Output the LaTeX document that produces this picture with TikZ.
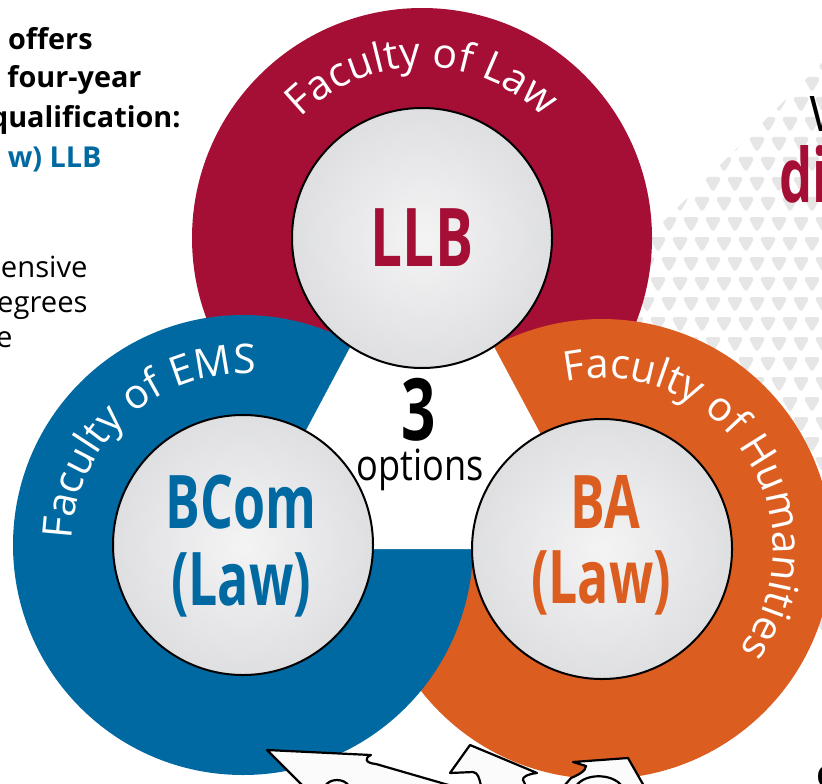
\documentclass[tikz,border=0pt]{standalone}
\usepackage{fontspec}
\setmainfont{Open Sans}
\newfontfamily\condbold[FakeStretch=0.7]{Open Sans Bold}
\newfontfamily\condreg[FakeStretch=0.84]{Open Sans}
\usetikzlibrary{calc, decorations.text}
\definecolor{lawred}{HTML}{A50E35}
\definecolor{emsblue}{HTML}{0069A2}
\definecolor{humorange}{HTML}{DC5D20}
\definecolor{ballin}{HTML}{F4F4F5}
\definecolor{ballout}{HTML}{C9CACD}
\definecolor{patgray}{HTML}{E6E6E6}
\pgfdeclareradialshading{ballshade}{\pgfpoint{0bp}{0bp}}{color(0bp)=(ballin); color(50bp)=(ballout)}
\tikzset{>=latex}

\begin{document}
\begin{tikzpicture}[x=0.5pt, y=0.5pt,
  gball/.style={draw=black, line width=1pt, shading=ballshade},
  facultytext/.style={decorate, decoration={text along path, text align=center,
    text color=white, text={|\fontsize{20.5}{24}\selectfont|#1}}},
  degree/.style={font=\condbold\fontsize{37}{40}\selectfont, text=#1, inner sep=0pt, anchor=base},
  sidebold/.style={inner sep=0pt, anchor=base east, font=\bfseries\fontsize{14.4}{18}\selectfont},
  sidereg/.style={inner sep=0pt, anchor=base east, font=\fontsize{14.6}{18}\selectfont},
  arrowbit/.style={fill=white!97!gray, draw=black, line width=1.1pt, line join=round}]
\useasboundingbox (0,0) rectangle (822,783);
\clip (0,0) rectangle (822,783);

\coordinate (lawc) at (422,545);
\coordinate (emsc) at (243,238);
\coordinate (humc) at (602,234);

% patterned background on the right
\begin{scope}
\clip (533,431) -- (822,720) -- (822,143) -- cycle;
\foreach \r in {0,...,30}
  \foreach \c in {0,...,14}
    \fill[patgray, rounded corners=2pt] ({526+\c*22+mod(\r,2)*11},{140+\r*20}) ++(-9,6) -- ++(18,0) -- ++(-9,-16) -- cycle;
\end{scope}

% rings
\fill[lawred] (lawc) circle (230);
\fill[humorange] (humc) circle (230);
\fill[emsblue] (emsc) circle (230);
\fill[white] (422,571) -- (243,234) -- (602,234) -- cycle;

\path[facultytext={Faculty of Law}] (lawc) ++(170:171) arc (170:10:171);
\path[facultytext={Faculty of EMS}] (emsc) ++(222:171) arc (222:42:171);
\path[facultytext={Faculty of Humanities}] (humc) ++(148:171) arc (148:-82:171);

\draw[gball] (lawc) circle (130);
\draw[gball] (emsc) circle (130);
\draw[gball] (humc) circle (130);

\node[degree=lawred, font=\condbold\fontsize{40.5}{44}\selectfont] (llb) at (422,517) {LLB};
\node[degree=emsblue] (bcom) at (241,255) {BCom};
\node[degree=emsblue] (bcomlaw) at (241,178) {(Law)};
\node[degree=humorange] (ba) at (605,255) {BA};
\node[degree=humorange] (balaw) at (601,180) {(Law)};

\node[degree=black, font=\condbold\fontsize{43}{44}\selectfont] (three) at (419,343) {3};
\node[inner sep=0pt, anchor=base, font=\condreg\fontsize{21.5}{24}\selectfont] (opts) at (420,303) {options};

% cut-off text at the page edges
\node[sidebold] (l1) at (93,733) {n offers};
\node[sidebold] (l2) at (142,695) {n four-year};
\node[sidebold] (l3) at (181,655) {qualification:};
\node[sidebold, text=emsblue] (l4) at (102,615) {w) LLB};
\node[sidereg] (l5) at (88,506) {ensive};
\node[sidereg] (l6) at (88,471) {egrees};
\node[sidereg] (l7) at (13,436) {e};
\node[inner sep=0pt, anchor=base west, font=\fontsize{24.5}{26}\selectfont] (r1) at (809,651) {W};
\node[inner sep=0pt, anchor=base west, text=lawred, font=\condbold\fontsize{37.5}{40}\selectfont] (r2) at (779,581) {di};
\node[inner sep=0pt, anchor=north west, font=\bfseries\fontsize{15}{18}\selectfont] (r3) at (816,18) {C};

% arrows at the bottom
\draw[arrowbit] (303,-3) -- (267,33) -- (371,28) .. controls (364,25) and (365,20) .. (376,19) -- (452,-3);
\draw[line width=1.1pt] (325,-3) .. controls (330,5) and (344,5) .. (349,-3);
\draw[arrowbit] (481,-3) .. controls (479,6) and (478,10) .. (473,11) -- (450,10) -- (470,38) -- (537,10)
  .. controls (528,9) and (522,6) .. (523,3) -- (526,-3);
\draw[arrowbit] (564,-3) -- (571,5) .. controls (578,8) and (586,12) .. (586,17) -- (573,21) -- (628,25) -- (644,-3);
\draw[line width=1.1pt] (576,-3) .. controls (585,10) and (612,10) .. (622,-3);
\end{tikzpicture}
\end{document}
